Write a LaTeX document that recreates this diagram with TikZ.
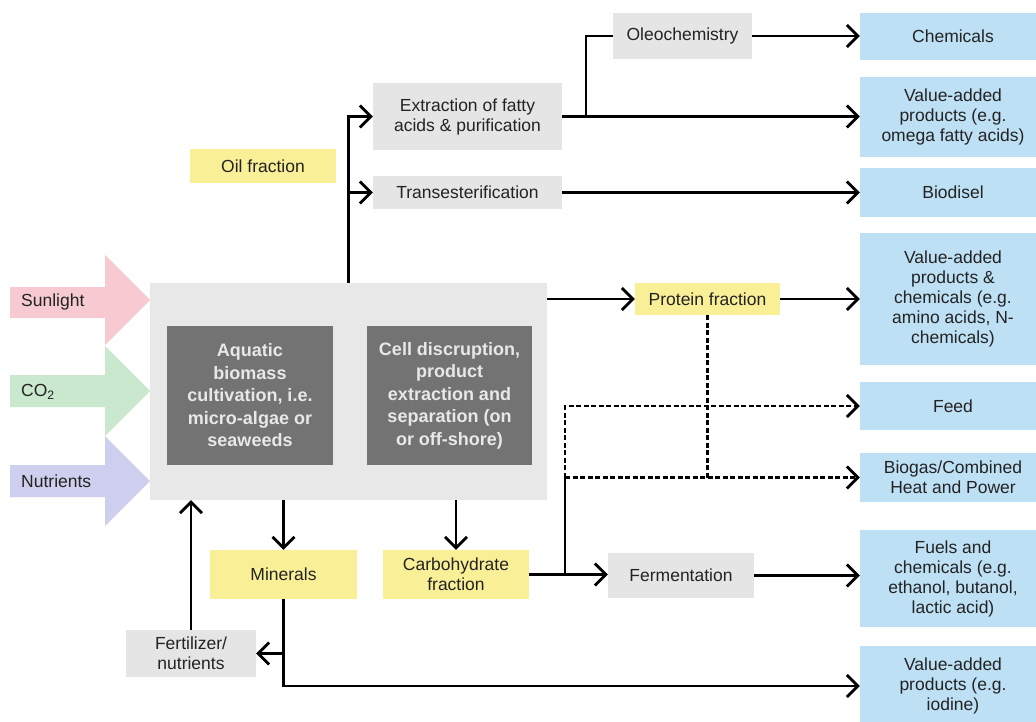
\documentclass[tikz,border=0pt]{standalone}
\usepackage{fontspec}
\setmainfont{Liberation Sans}
\usetikzlibrary{arrows.meta}
\definecolor{txt}{RGB}{35,35,35}
\definecolor{yel}{RGB}{249,239,151}
\definecolor{lgr}{RGB}{229,229,229}
\definecolor{mgr}{RGB}{232,232,232}
\definecolor{dgr}{RGB}{115,115,115}
\definecolor{dtx}{RGB}{232,232,232}
\definecolor{blu}{RGB}{190,224,245}
\definecolor{pnk}{RGB}{246,202,208}
\definecolor{grn}{RGB}{202,232,206}
\definecolor{prp}{RGB}{206,206,238}
\begin{document}
\begin{tikzpicture}[x=1pt,y=-1pt,
  base/.style={inner sep=0pt, align=center, text=txt, font=\fontsize{17.5}{20}\selectfont},
  ybox/.style={base, fill=yel},
  gbox/.style={base, fill=lgr},
  bbox/.style={base, fill=blu, minimum width=186pt},
  dbox/.style={base, fill=dgr, text=dtx, font=\fontsize{18}{22.5}\selectfont\bfseries},
  lbl/.style={base, anchor=west},
  arr/.style={line width=2.8pt, -{Straight Barb[length=11pt,width=22pt,line width=2.8pt]}},
  ln/.style={line width=2.8pt},
  dsh/.style={line width=2.8pt, dash pattern=on 5pt off 2.5pt}
]
\clip (0,0) rectangle (1036,722);
\fill[white] (0,0) rectangle (1036,722);

% block arrows
\fill[pnk] (10,287) -- (105,287) -- (105,255) -- (150,300) -- (105,345) -- (105,318) -- (10,318) -- cycle;
\fill[grn] (10,375) -- (105,375) -- (105,346) -- (150,391) -- (105,436) -- (105,407) -- (10,407) -- cycle;
\fill[prp] (10,465) -- (105,465) -- (105,436) -- (150,481) -- (105,526) -- (105,497) -- (10,497) -- cycle;
\node[lbl] (sun) at (21,302) {Sunlight};
\node[lbl] (co2) at (21,392) {CO\textsubscript{2}};
\node[lbl] (nut) at (21,481) {Nutrients};

% main box
\node[base, fill=mgr, minimum width=397pt, minimum height=217pt] (main) at (348.5,391.5) {};
\node[dbox, minimum width=166pt, minimum height=139pt] (aqua) at (250,395.5) {Aquatic\\biomass\\cultivation, i.e.\\micro-algae or\\seaweeds};
\node[dbox, minimum width=165pt, minimum height=139pt] (cell) at (449.5,395.5) {Cell discruption,\\product\\extraction and\\separation (on\\or off-shore)};

% yellow & gray boxes
\node[ybox, minimum width=146pt, minimum height=34pt] (oil) at (263,166) {Oil fraction};
\node[gbox, minimum width=189pt, minimum height=67pt] (ext) at (467.5,116.5) {Extraction of fatty\\acids \& purification};
\node[gbox, minimum width=189pt, minimum height=33pt] (trans) at (467.5,192.5) {Transesterification};
\node[gbox, minimum width=139pt, minimum height=46pt] (oleo) at (682.5,36) {Oleochemistry};
\node[ybox, minimum width=145pt, minimum height=32pt] (prot) at (707.5,299) {Protein fraction};
\node[ybox, minimum width=147pt, minimum height=49pt] (min) at (283.5,574.5) {Minerals};
\node[ybox, minimum width=146pt, minimum height=49pt] (carb) at (456,574.5) {Carbohydrate\\fraction};
\node[gbox, minimum width=146pt, minimum height=45pt] (ferm) at (681,575.5) {Fermentation};
\node[gbox, minimum width=130pt, minimum height=47pt] (fert) at (191,653.5) {Fertilizer/\\nutrients};

% blue output boxes
\node[bbox, minimum height=47pt] (chem) at (953,36.5) {Chemicals};
\node[bbox, minimum height=80pt] (omega) at (953,117) {Value-added\\products (e.g.\\omega fatty acids)};
\node[bbox, minimum height=49pt] (bio) at (953,192.5) {Biodisel};
\node[bbox, minimum height=132pt] (vap) at (953,299) {Value-added\\products \&\\chemicals (e.g.\\amino acids, N-\\chemicals)};
\node[bbox, minimum height=48pt] (feed) at (953,406) {Feed};
\node[bbox, minimum height=49pt] (biog) at (953,477.5) {Biogas/Combined\\Heat and Power};
\node[bbox, minimum height=97pt] (fuel) at (953,578.5) {Fuels and\\chemicals (e.g.\\ethanol, butanol,\\lactic acid)};
\node[bbox, minimum height=80pt] (iod) at (953,686) {Value-added\\products (e.g.\\iodine)};

% connectors: oil branch
\draw[arr] (main.north) |- (ext.west);
\draw[arr] (main.north) |- (trans.west);
\draw[arr] (ext.east) -- (ext.east -| omega.west);
\coordinate (br) at (586,116.5);
\draw[ln] (br) |- (oleo.west);
\draw[arr] (oleo.east) -- (oleo.east -| chem.west);
\draw[arr] (trans.east) -- (trans.east -| bio.west);

% protein
\draw[arr] (main.east |- prot.west) -- (prot.west);
\draw[arr] (prot.east) -- (prot.east -| vap.west);
\draw[dsh] (prot.south) -- (prot.south |- biog.west);

% carbohydrate
\draw[arr] (carb.east) -- (carb.east -| ferm.west);
\coordinate (jn) at (565,574.5);
\coordinate (jb) at (565,477.5);
\draw[ln] (jn) -- (jb);
\draw[dsh, arr] (jb) |- (feed.west);
\draw[dsh, arr] (jb) -- (biog.west);
\draw[arr] (ferm.east) -- (ferm.east -| fuel.west);

% minerals
\draw[arr] (main.south -| min.north) -- (min.north);
\draw[arr] (main.south -| carb.north) -- (carb.north);
\draw[arr] (fert.north) -- (fert.north |- main.south);
\draw[arr] (min.south) |- (iod.west);
\draw[arr] (min.south |- fert.east) -- (fert.east);
\end{tikzpicture}
\end{document}
